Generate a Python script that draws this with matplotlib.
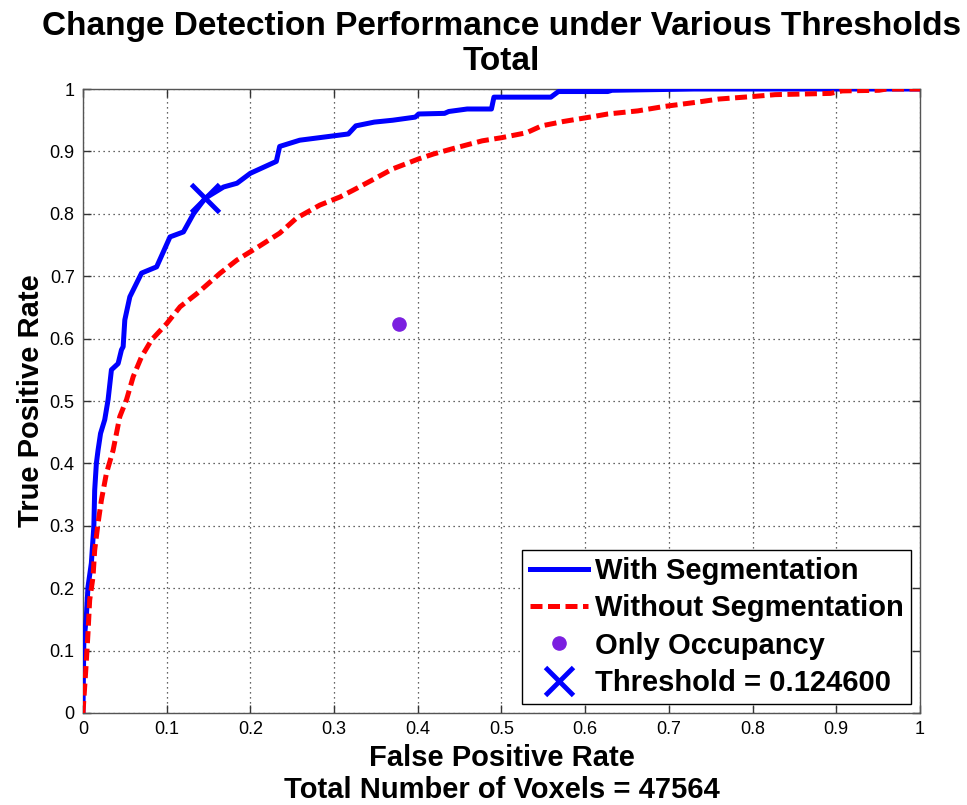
import numpy as np
import matplotlib
matplotlib.use('Agg')
import matplotlib.pyplot as plt

plt.rcParams['font.family'] = ['Liberation Sans', 'DejaVu Sans']

# ROC points
fpr_seg = [0.0, 0.001, 0.004, 0.006, 0.010, 0.013, 0.014, 0.016, 0.018, 0.021, 0.026,
           0.030, 0.034, 0.042, 0.046, 0.048, 0.050, 0.056, 0.070, 0.088, 0.104, 0.120,
           0.132, 0.146, 0.168, 0.184, 0.200, 0.231, 0.235, 0.259, 0.317, 0.326, 0.348,
           0.370, 0.397, 0.401, 0.432, 0.437, 0.459, 0.488, 0.491, 0.559, 0.568, 0.627,
           0.632, 0.730, 1.0]
tpr_seg = [0.0, 0.112, 0.154, 0.202, 0.240, 0.299, 0.357, 0.400, 0.421, 0.448, 0.470,
           0.502, 0.550, 0.560, 0.582, 0.587, 0.630, 0.667, 0.705, 0.715, 0.763, 0.771,
           0.800, 0.825, 0.843, 0.849, 0.865, 0.884, 0.908, 0.918, 0.928, 0.941, 0.947,
           0.950, 0.955, 0.960, 0.961, 0.964, 0.968, 0.968, 0.987, 0.987, 0.996, 0.996,
           0.998, 1.0, 1.0]

fpr_noseg = [0.0, 0.0036, 0.006, 0.008, 0.012, 0.014, 0.018, 0.022, 0.028, 0.036, 0.044,
             0.052, 0.060, 0.070, 0.082, 0.100, 0.116, 0.136, 0.164, 0.184, 0.207, 0.235,
             0.255, 0.283, 0.307, 0.323, 0.344, 0.370, 0.401, 0.419, 0.446, 0.477, 0.500,
             0.530, 0.548, 0.574, 0.610, 0.627, 0.663, 0.694, 0.734, 0.760, 0.800, 0.827,
             0.893, 0.907, 0.951, 0.960, 1.0]
tpr_noseg = [0.0, 0.074, 0.128, 0.181, 0.218, 0.261, 0.304, 0.341, 0.384, 0.421, 0.475,
             0.502, 0.539, 0.571, 0.598, 0.624, 0.651, 0.672, 0.705, 0.726, 0.745, 0.769,
             0.793, 0.814, 0.827, 0.838, 0.853, 0.872, 0.888, 0.896, 0.906, 0.917, 0.922,
             0.930, 0.941, 0.948, 0.956, 0.960, 0.965, 0.972, 0.979, 0.984, 0.988, 0.991,
             0.993, 0.997, 0.998, 1.0, 1.0]

occ_fpr, occ_tpr = 0.377, 0.624
thr_fpr, thr_tpr = 0.146, 0.826
threshold = 0.1246
n_voxels = 47564

fig = plt.figure(figsize=(9.67, 8.05), dpi=100)
ax = fig.add_axes([0.0858, 0.1143, 0.8656, 0.7751])

ax.plot(fpr_seg, tpr_seg, color='#0000ff', lw=3.6, label='With Segmentation', zorder=3)
ax.plot(fpr_noseg, tpr_noseg, color='#ff0000', lw=3.6, ls=(0, (2.4, 1.1)),
        label='Without Segmentation', zorder=3)
ax.plot([occ_fpr], [occ_tpr], 'o', color='#7b1fe0', ms=9.5, mec='#7b1fe0',
        label='Only Occupancy', zorder=4, ls='none')
ax.plot([thr_fpr], [thr_tpr], 'x', color='#0000ff', ms=20, mew=3.5,
        label='Threshold = %f' % threshold, zorder=5, ls='none')

ax.set_xlim(0, 1)
ax.set_ylim(0, 1)
ticks = np.round(np.arange(0, 1.01, 0.1), 1)
ax.set_xticks(ticks)
ax.set_yticks(ticks)
ax.set_xticklabels(['%g' % t for t in ticks])
ax.set_yticklabels(['%g' % t for t in ticks])
ax.tick_params(direction='in', length=6, width=1, top=True, right=True,
               labelsize=13, color='#333333', pad=6)
ax.grid(True, ls=(0, (1, 3)), color='#333333', lw=0.9)
for s in ax.spines.values():
    s.set_color('#555555')
    s.set_linewidth(1.0)

ax.set_title('Change Detection Performance under Various Thresholds\nTotal',
             fontsize=24, fontweight='bold', pad=14, linespacing=1.17)
ax.set_xlabel('False Positive Rate\nTotal Number of Voxels = %d' % n_voxels,
              fontsize=21, fontweight='bold', labelpad=4, linespacing=1.2)
ax.set_ylabel('True Positive Rate', fontsize=21, fontweight='bold', labelpad=3)

leg = ax.legend(loc='lower right', prop={'weight': 'bold', 'size': 21},
                frameon=True, fancybox=False, edgecolor='black', framealpha=1,
                handlelength=2.0, handletextpad=0.25, borderpad=0.25,
                labelspacing=0.32, borderaxespad=0.3)
leg.get_frame().set_linewidth(1.0)

fig.savefig('out.png', dpi=100)
